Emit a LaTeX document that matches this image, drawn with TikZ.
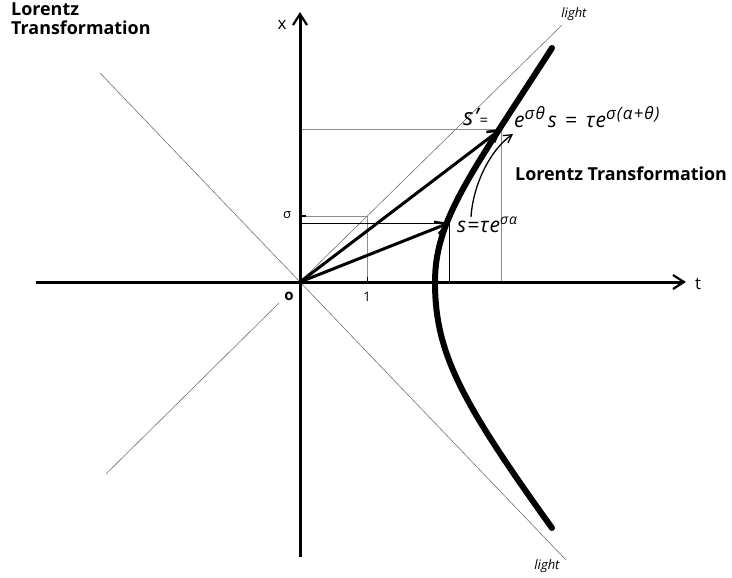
\documentclass[tikz,border=0pt]{standalone}
\usepackage{fontspec}
\setmainfont{Open Sans}
\usetikzlibrary{arrows.meta}
\newcommand{\supx}[2][16]{\raisebox{0.42em}{\fontsize{#1}{#1}\selectfont\addfontfeature{LetterSpace=6}#2}}
\begin{document}
\begin{tikzpicture}[x=1pt,y=-1pt,
  axis/.style={line width=3pt,-{Straight Barb[length=11pt,width=14pt,line width=2.2pt]}},
  vec/.style={line width=3pt,-{Straight Barb[length=11pt,width=13pt,line width=2.5pt]}},
  lightline/.style={line width=0.6pt,draw=black!55},
  proj/.style={line width=0.8pt,draw=black!45},
  projdark/.style={line width=0.8pt,draw=black},
  curve/.style={line width=6pt,line cap=round,line join=round},
  lbl/.style={inner sep=0pt,font=\fontsize{15}{18}\selectfont},
  ttl/.style={inner sep=0pt,font=\fontsize{17.9}{18.5}\selectfont\bfseries,align=left},
  frm/.style={inner sep=0pt,anchor=base west,font=\fontsize{21}{24}\selectfont\itshape\addfontfeature{LetterSpace=4}},
]
\useasboundingbox (0,0) rectangle (732,578);
% key points
\coordinate (O) at (300,282);
\coordinate (xtop) at (300,12);
\coordinate (xbot) at (300,557);
\coordinate (tl) at (36,282);
\coordinate (tr) at (686,282);
\coordinate (V) at (435,282);
\coordinate (Top) at (552,48);
\coordinate (Bot) at (552,528);
\coordinate (S) at (449,223);
\coordinate (Sp) at (501,129);
\coordinate (Sx) at (300,223);
\coordinate (St) at (449,282);
\coordinate (Spx) at (300,129);
\coordinate (Spt) at (501,282);
\coordinate (Sig) at (300,216);
\coordinate (One) at (367,282);
\coordinate (Corner) at (367,216);
\coordinate (LUR) at (562,25);
\coordinate (LLR) at (566,560);
\coordinate (LUL) at (100,73);
\coordinate (LLLa) at (279,303);
\coordinate (LLLb) at (106,474);
% light lines
\draw[lightline] (O) -- (LUR);
\draw[lightline] (O) -- (LLR);
\draw[lightline] (O) -- (LUL);
\draw[lightline] (LLLa) -- (LLLb);
% projections
\draw[proj] (Sig) -- (Corner) -- (One);
\draw[proj] (Spx) -- (Sp) -- (Spt);
\draw[projdark] (Sx) -- (S) -- (St);
\draw[line width=1.5pt] (Sig) -- ++(6,0);
\draw[line width=1pt] (One) -- ++(0,-5);
% axes
\draw[axis] (tl) -- (tr);
\draw[axis] (xbot) -- (xtop);
% hyperbola
\draw[curve] (Top) .. controls (470,175) and (435,220) .. (V) .. controls (435,352) and (460,400) .. (Bot);
% vectors
\draw[vec] (O) -- (S);
\draw[vec] (O) -- (Sp);
% curved arrow
\coordinate (Ca) at (471,217);
\coordinate (Cb) at (513,134);
\draw[line width=1.3pt,-{Straight Barb[length=8pt,width=9pt,line width=1.3pt]}] (Ca) .. controls (473,185) and (490,150) .. (Cb);
% labels
\node[lbl,font=\fontsize{17}{20}\selectfont] (xl) at (282,25) {x};
\node[lbl,font=\fontsize{17}{20}\selectfont] (tlb) at (698,284) {t};
\node[lbl,font=\fontsize{13}{15}\selectfont] (sigl) at (287,215) {σ};
\node[lbl,font=\fontsize{13}{15}\selectfont] (onel) at (367,297) {1};
\node[lbl,font=\fontsize{15}{15}\selectfont\bfseries] (ol) at (289,296) {o};
\node[lbl,font=\fontsize{13}{15}\selectfont\itshape] (lt1) at (574,14) {light};
\node[lbl,font=\fontsize{13}{15}\selectfont\itshape] (lt2) at (547,566) {light};
\node[ttl,anchor=north west] (title) at (11,3) {Lorentz\\Transformation};
\node[ttl,anchor=west] (lt) at (515,174) {Lorentz Transformation};
% formulas
\node[frm] (spl) at (463,126) {{\fontsize{24}{24}\selectfont s'}\kern1pt{\fontsize{15}{15}\selectfont\upshape=}};
\node[frm] (spf) at (514,128) {e\supx[17]{σθ}\kern3pt s\hspace{8pt}=\hspace{9pt}τe\supx[17]{σ(α+θ)}};
\node[frm] (sf) at (457,233) {s=τe\supx[14]{σα}};
\end{tikzpicture}
\end{document}
